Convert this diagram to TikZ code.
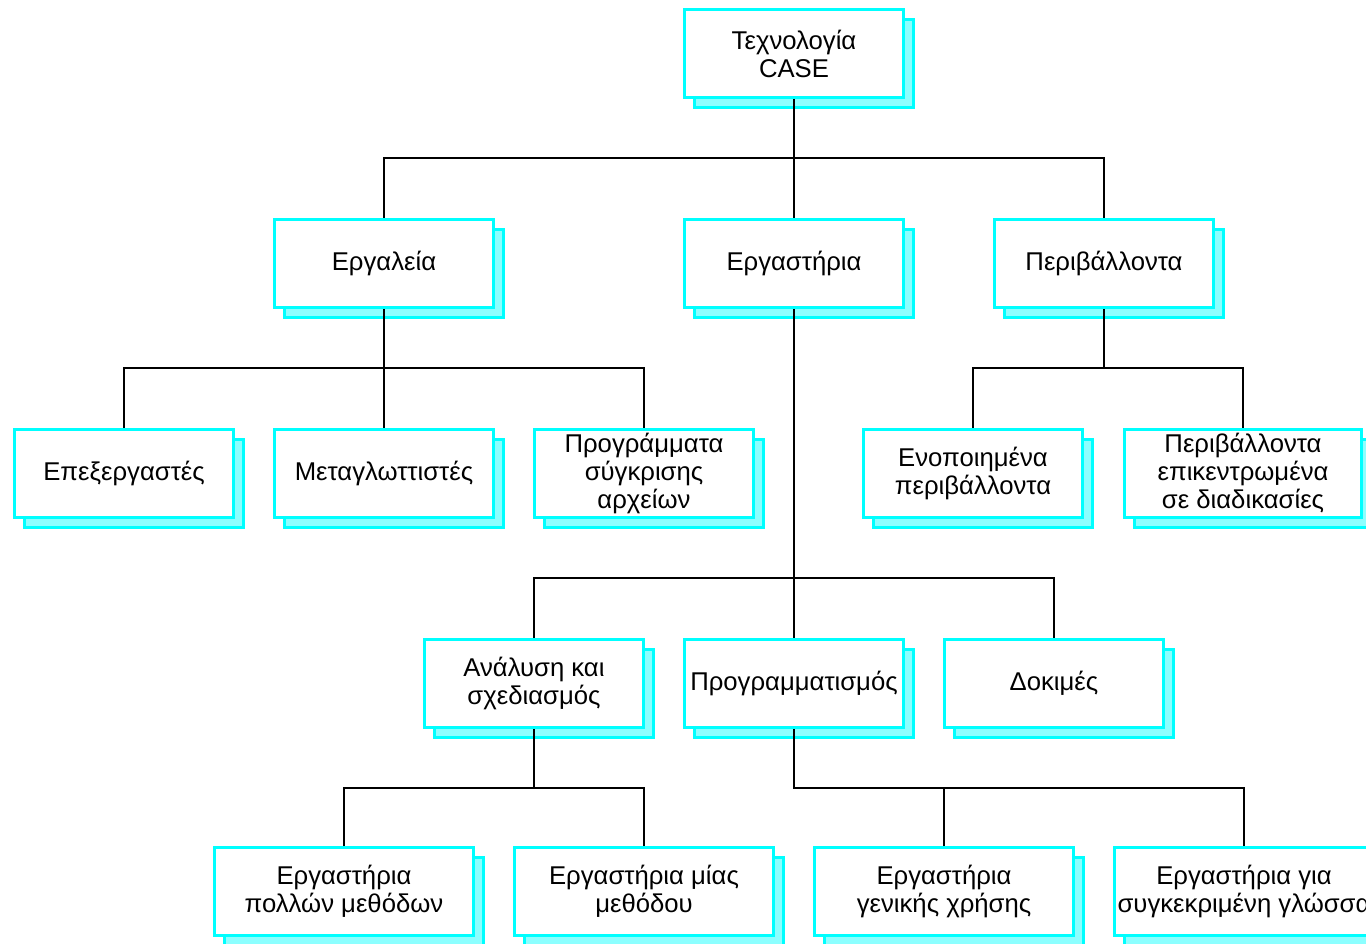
\documentclass[tikz,border=0pt]{standalone}
\usepackage{fontspec}
\setmainfont{Liberation Sans}
\usetikzlibrary{shadows}
\definecolor{boxcyan}{HTML}{00FFFF}
\definecolor{shadecyan}{HTML}{8CFFFF}
\tikzset{
  box/.style={rectangle, draw=boxcyan, line width=3pt, fill=white,
    minimum width=219pt, minimum height=88pt, inner sep=0pt, align=center,
    font=\fontsize{25.7}{28}\selectfont,
    general shadow={shadow xshift=10pt, shadow yshift=-10pt,
      fill=shadecyan, draw=boxcyan, line width=3pt}},
  widebox/.style={minimum width=259pt},
  link/.style={draw=black, line width=1.3pt},
}
\begin{document}
\begin{tikzpicture}[x=1pt,y=-1pt]
\useasboundingbox (0,0) rectangle (1366,944);
\clip (0,0) rectangle (1366,944);
% level 0
\node[box] (top) at (794,53.5) {Τεχνολογία\\CASE};
% level 1
\node[box] (tools) at (384,263.5) {Εργαλεία};
\node[box] (work) at (794,263.5) {Εργαστήρια};
\node[box] (env) at (1104,263.5) {Περιβάλλοντα};
% level 2
\node[box] (ed) at (124,473.5) {Επεξεργαστές};
\node[box] (comp) at (384,473.5) {Μεταγλωττιστές};
\node[box] (diff) at (644,473.5) {Προγράμματα\\σύγκρισης\\αρχείων};
\node[box] (integ) at (973,473.5) {Ενοποιημένα\\περιβάλλοντα};
\node[box,minimum width=237pt] (proc) at (1243,473.5) {Περιβάλλοντα\\επικεντρωμένα\\σε διαδικασίες};
% level 3
\node[box] (anal) at (534,683.5) {Ανάλυση και\\σχεδιασμός};
\node[box] (prog) at (794,683.5) {Προγραμματισμός};
\node[box] (test) at (1054,683.5) {Δοκιμές};
% level 4
\node[box,widebox] (multi) at (344,891.5) {Εργαστήρια\\πολλών μεθόδων};
\node[box,widebox] (single) at (644,891.5) {Εργαστήρια μίας\\μεθόδου};
\node[box,widebox] (general) at (944,891.5) {Εργαστήρια\\γενικής χρήσης};
\node[box,widebox] (lang) at (1244,891.5) {Εργαστήρια για\\συγκεκριμένη γλώσσα};
% junctions
\coordinate (j0) at (794,158);
\coordinate (j1) at (384,368);
\coordinate (j2) at (1104,368);
\coordinate (j3) at (794,578);
\coordinate (j4) at (534,788);
\coordinate (j5) at (794,788);
% connectors
\draw[link] (top.south) -- (j0);
\draw[link] (tools.north) |- (j0) -| (env.north);
\draw[link] (j0) -- (work.north);
\draw[link] (tools.south) -- (j1);
\draw[link] (ed.north) |- (j1) -| (diff.north);
\draw[link] (j1) -- (comp.north);
\draw[link] (env.south) -- (j2);
\draw[link] (integ.north) |- (j2) -| (proc.north);
\draw[link] (work.south) -- (j3);
\draw[link] (anal.north) |- (j3) -| (test.north);
\draw[link] (j3) -- (prog.north);
\draw[link] (anal.south) -- (j4);
\draw[link] (multi.north) |- (j4) -| (single.north);
\draw[link] (prog.south) -- (j5) -| (lang.north);
\draw[link] (general.north) |- (j5);
\end{tikzpicture}
\end{document}
